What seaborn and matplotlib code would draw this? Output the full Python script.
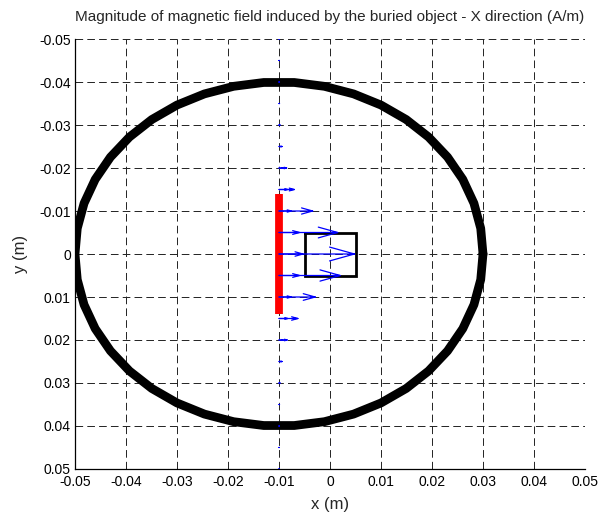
import numpy as np
import pandas as pd
import matplotlib
matplotlib.use("Agg")
import matplotlib.pyplot as plt
import seaborn as sns

# ---------------- data ----------------
title_text = "Magnitude of magnetic field induced by the buried object - X direction (A/m)"
x_label = "x (m)"
y_label = "y (m)"
tick_values = [-0.05, -0.04, -0.03, -0.02, -0.01, 0.0, 0.01, 0.02, 0.03, 0.04, 0.05]
tick_labels = ["-0.05", "-0.04", "-0.03", "-0.02", "-0.01", "0",
               "0.01", "0.02", "0.03", "0.04", "0.05"]

# coil (circle drawn as polygon)
circle_center_x = -0.01
circle_center_y = 0.0
circle_radius = 0.04
circle_segments = 42

# current line (red bar)
bar_x = [-0.01, -0.01]
bar_y = [-0.014, 0.014]

# buried object (square)
rect_x = [-0.005, 0.005, 0.005, -0.005, -0.005]
rect_y = [-0.005, -0.005, 0.005, 0.005, -0.005]

# quiver: base positions and X-component values (two overlapping layers)
arrow_x = [-0.01] * 21
arrow_y = [-0.05, -0.045, -0.04, -0.035, -0.03, -0.025, -0.02, -0.015, -0.01, -0.005, 0.0,
           0.005, 0.01, 0.015, 0.02, 0.025, 0.03, 0.035, 0.04, 0.045, 0.05]
arrow_u_long = [0.00005, 0.00005, 0.00005, 0.0001, 0.0002, 0.0006, 0.0015, 0.0030, 0.0066, 0.0115, 0.0148,
                0.0120, 0.0071, 0.0037, 0.0016, 0.0006, 0.0002, 0.0001, 0.00005, 0.00005, 0.00005]
arrow_u_short = [0.0, 0.0, 0.0, 0.0, 0.0001, 0.0003, 0.0008, 0.0017, 0.0024, 0.0040, 0.0047,
                 0.0040, 0.0024, 0.0017, 0.0008, 0.0003, 0.0001, 0.0, 0.0, 0.0, 0.0]
arrow_v = [0.0] * 21

# ---------------- style ----------------
sns.set_style("white")
plt.rcParams["font.family"] = ["Liberation Sans", "DejaVu Sans"]
plt.rcParams["lines.scale_dashes"] = False

fig = plt.figure(figsize=(6.0, 5.18), dpi=100)
ax = fig.add_axes([0.125, 0.0946, 0.85, 0.8301])

# circle
ang = np.linspace(0, 2 * np.pi, circle_segments + 1)
circ = pd.DataFrame({"x": circle_center_x + circle_radius * np.cos(ang),
                     "y": circle_center_y + circle_radius * np.sin(ang)})
sns.lineplot(data=circ, x="x", y="y", sort=False, estimator=None, ax=ax,
             color="black", linewidth=6.3, solid_joinstyle="round", zorder=3)

# red bar
sns.lineplot(x=bar_x, y=bar_y, sort=False, estimator=None, ax=ax,
             color="#FF0000", linewidth=5.6, solid_capstyle="butt", zorder=4)

# square
sns.lineplot(x=rect_x, y=rect_y, sort=False, estimator=None, ax=ax,
             color="black", linewidth=2.0, solid_joinstyle="miter", zorder=4)

# quiver (MATLAB-style open arrow heads)
def quiver_lines(xs, ys, us, vs, alpha=0.33, beta=0.33):
    lx, ly = [], []
    for x0, y0, u, v in zip(xs, ys, us, vs):
        lx += [x0, x0 + u, np.nan]
        ly += [y0, y0 + v, np.nan]
        hx1 = x0 + u - alpha * (u + beta * (v + 1e-12))
        hy1 = y0 + v - alpha * (v - beta * (u + 1e-12))
        hx2 = x0 + u - alpha * (u - beta * (v + 1e-12))
        hy2 = y0 + v - alpha * (v + beta * (u + 1e-12))
        lx += [hx1, x0 + u, hx2, np.nan]
        ly += [hy1, y0 + v, hy2, np.nan]
    return lx, ly

for us in (arrow_u_long, arrow_u_short):
    lx, ly = quiver_lines(arrow_x, arrow_y, us, arrow_v)
    ax.plot(lx, ly, color="#0000FF", linewidth=0.9, zorder=5)

# axes
ax.set_xlim(-0.05, 0.05)
ax.set_ylim(0.05, -0.05)
ax.set_xticks(tick_values)
ax.set_xticklabels(tick_labels)
ax.set_yticks(tick_values)
ax.set_yticklabels(tick_labels)
ax.tick_params(direction="in", length=4, width=0.8, labelsize=10, colors="black")
ax.tick_params(axis="x", pad=4)
ax.tick_params(axis="y", pad=3)
ax.grid(True, color="#222222", linewidth=0.7, linestyle=(0, (5.5, 3.0)))
ax.set_axisbelow(True)
for s in ("top", "right"):
    ax.spines[s].set_visible(False)
for s in ("left", "bottom"):
    ax.spines[s].set_color("black")
    ax.spines[s].set_linewidth(0.9)
ax.set_xlabel(x_label, fontsize=12, labelpad=6)
ax.set_ylabel(y_label, fontsize=12, labelpad=8)
ax.set_title(title_text, fontsize=11, pad=13)

fig.savefig("out.png", dpi=100, facecolor="white")
